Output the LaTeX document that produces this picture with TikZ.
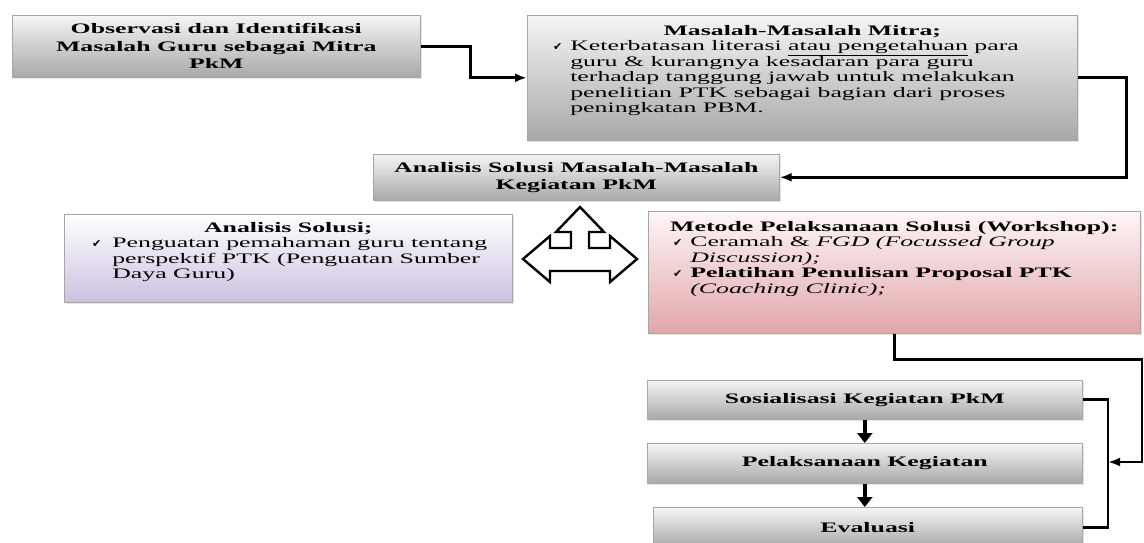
\documentclass[tikz,border=0pt]{standalone}
\usepackage{fontspec}
\setmainfont{Liberation Serif}[FakeStretch=1.78]
\newfontfamily\symfont{DejaVu Sans}
\usetikzlibrary{arrows.meta,shadows}

\definecolor{lilacB}{RGB}{204,192,224}
\definecolor{roseA}{RGB}{253,246,246}
\definecolor{roseB}{RGB}{226,166,170}

\newcommand{\chk}{{\symfont\fontsize{11}{11}\selectfont ✔}}

\begin{document}
\begin{tikzpicture}[x=1pt,y=-1pt]

\tikzstyle{box}=[anchor=north west, inner sep=0pt, draw=gray!70, line width=0.6pt, drop shadow={shadow xshift=1.5pt, shadow yshift=-1.5pt, fill=gray!40}, font=\fontsize{14.5}{15.5}\selectfont];
\tikzstyle{greybox}=[box, top color=gray!8, bottom color=gray!68];
\tikzstyle{lilacbox}=[box, top color=white, bottom color=lilacB];
\tikzstyle{rosebox}=[box, top color=roseA, bottom color=roseB];
\tikzstyle{e}=[line width=2.9pt, -{Latex[length=12pt,width=9pt]}];
\tikzstyle{down}=[line width=4.5pt, -{Triangle[length=10pt,width=15pt]}];

\useasboundingbox (0,0) rectangle (1144,542);

\node[greybox, minimum width=408pt, minimum height=62pt, align=center, font=\fontsize{14.5}{17.5}\selectfont\bfseries] (obs) at (12,15) {Observasi dan Identifikasi\\Masalah Guru sebagai Mitra\\PkM};

\node[greybox, minimum width=550pt, minimum height=125pt] (mitra) at (527,15) {\parbox[c][125pt][t]{550pt}{\vspace*{10pt}\centering\textbf{Masalah-Masalah Mitra;}\par
\raggedright\leftskip=43pt\noindent\llap{\chk\hspace{8pt}}Keterbatasan literasi \underline{atau pengetahuan} para\\guru \& kurangnya kesadaran para guru\\terhadap tanggung jawab untuk melakukan\\penelitian PTK sebagai bagian dari proses\\peningkatan PBM.\par}};

\node[greybox, minimum width=406pt, minimum height=46pt, align=center, font=\fontsize{14.5}{17}\selectfont\bfseries] (solusi) at (373,154) {Analisis Solusi Masalah-Masalah\\Kegiatan PkM};

\node[lilacbox, minimum width=448pt, minimum height=88pt] (analisis) at (64,214) {\parbox[c][88pt][t]{448pt}{\vspace*{8pt}\centering\textbf{Analisis Solusi;}\par
\raggedright\leftskip=48pt\noindent\llap{\chk\hspace{11pt}}Penguatan pemahaman guru tentang\\perspektif PTK (Penguatan Sumber\\Daya Guru)\par}};

\node[rosebox, minimum width=492pt, minimum height=122pt] (metode) at (648,211) {\parbox[c][122pt][t]{492pt}{\vspace*{10pt}\centering\textbf{Metode Pelaksanaan Solusi (Workshop):}\par
\raggedright\leftskip=42pt\noindent\llap{\chk\hspace{8pt}}Ceramah \& \textit{FGD (Focussed Group}\\\textit{Discussion);}\par
\noindent\llap{\chk\hspace{8pt}}\textbf{Pelatihan Penulisan Proposal PTK}\\\textit{(Coaching Clinic);}\par}};

\node[greybox, minimum width=435pt, minimum height=39pt, font=\fontsize{14.5}{15.5}\selectfont\bfseries] (sos) at (647,380) {Sosialisasi Kegiatan PkM};
\node[greybox, minimum width=435pt, minimum height=40pt, font=\fontsize{14.5}{15.5}\selectfont\bfseries] (pel) at (647,443) {Pelaksanaan Kegiatan};
\node[greybox, minimum width=429pt, minimum height=40pt, font=\fontsize{14.5}{15.5}\selectfont\bfseries] (eva) at (653,507) {Evaluasi};

% three-way block arrow
\draw[line width=2.4pt, fill=white, line join=miter] (523,259) -- (550,236) -- (550,248) -- (571,248) -- (571,232) -- (556,232) -- (580,207) -- (604,232) -- (589,232) -- (589,248) -- (610,248) -- (610,236) -- (637,259) -- (610,282) -- (610,271) -- (550,271) -- (550,282) -- cycle;

\draw[e] (obs.east) -- ++(50,0) |- (mitra.west);
\draw[e] (mitra.east) -- ++(49,0) |- (solusi.east);

\coordinate (brk) at (1108,462);
\draw[line width=2.9pt] (sos.east) -| (brk) |- (eva.east);
\draw[e] (metode.south) -- ++(0,26) -| ([xshift=34pt]brk) -- (brk);

\draw[down] (sos.south) -- (pel.north);
\draw[down] (pel.south) -- (pel.south |- eva.north);
\end{tikzpicture}
\end{document}
